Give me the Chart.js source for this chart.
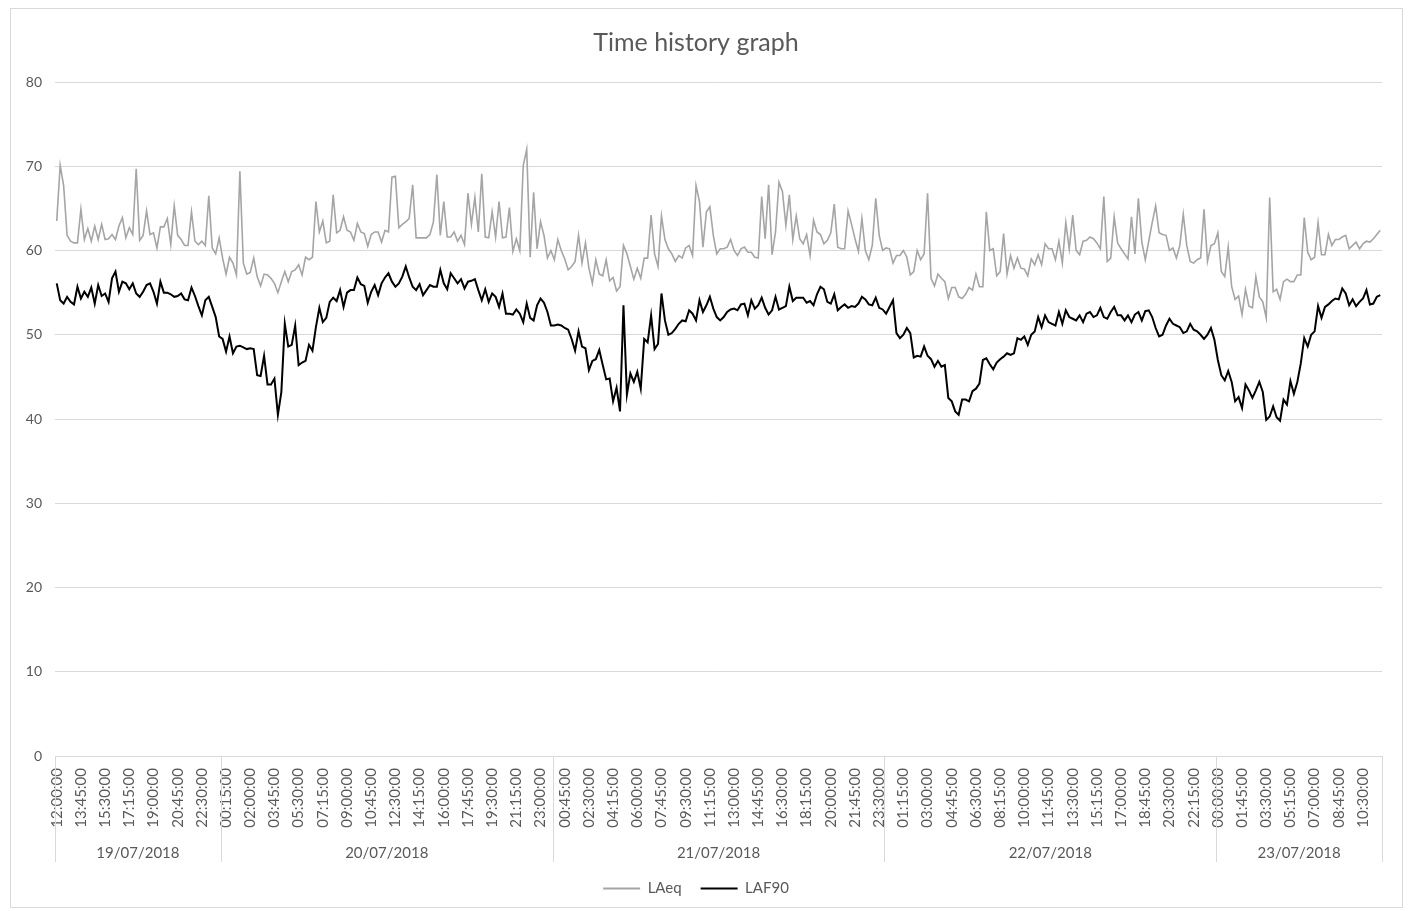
<!DOCTYPE html>
<html>
<head>
<meta charset="utf-8">
<title>Time history graph</title>
<script src="https://cdn.jsdelivr.net/npm/chart.js@4.4.1/dist/chart.umd.min.js"></script>
<style>
  html, body { margin: 0; padding: 0; background: #fff; }
  #wrap { width: 1408px; height: 911px; }
</style>
</head>
<body>
<div id="wrap"><canvas id="historyChart" width="1408" height="911"></canvas></div>
<script>
// Days on the lower axis level and how many 15-minute readings each one holds
const days = ['19/07/2018', '20/07/2018', '21/07/2018', '22/07/2018', '23/07/2018'];
const dayCounts = [48, 96, 96, 96, 48];
const firstReading = '12:00';   // first reading on 19/07/2018
const stepMinutes = 15;
const labelEvery = 7;           // one time label every 7 readings

// LAeq, dB(A), one value per 15 minutes
const laeq = [
  63.5, 70.1, 67.7, 61.8, 61.1, 60.9, 60.9, 64.9, 61.3, 62.6,
  61.1, 62.9, 61.3, 63.1, 61.3, 61.4, 61.9, 61.3, 62.9, 63.9,
  61.5, 62.7, 61.9, 69.7, 61.2, 61.8, 64.7, 61.9, 62.1, 60.3,
  62.8, 62.8, 63.8, 60.7, 65.3, 61.8, 61.3, 60.6, 60.6, 64.6,
  61.1, 60.7, 61.1, 60.6, 66.5, 60.3, 59.6, 61.5,
  59.1, 57.2, 59.2, 58.5, 57.1, 69.4, 58.5, 57.2, 57.4, 59.1,
  56.9, 55.8, 57.2, 57.1, 56.7, 56.1, 55.0, 56.3, 57.5, 56.3,
  57.5, 57.7, 58.3, 57.1, 59.2, 58.9, 59.2, 65.8, 62.2, 63.5,
  60.9, 61.1, 66.6, 62.1, 62.4, 64.0, 62.4, 62.2, 61.2, 63.2,
  62.2, 62.0, 60.5, 61.9, 62.2, 62.2, 61.0, 62.4,
  62.2, 68.7, 68.8, 62.7, 63.1, 63.4, 63.8, 67.8, 61.5, 61.5,
  61.5, 61.5, 61.9, 63.4, 69.0, 61.8, 65.8, 61.6, 61.6, 62.2,
  61.1, 61.8, 60.7, 66.8, 63.1, 66.3, 62.2, 69.1, 61.6, 61.5,
  64.6, 61.6, 65.8, 61.5, 61.6, 65.1, 59.9, 61.4, 60.0, 70.1,
  72.0, 59.2, 66.9, 60.2, 63.4, 61.8, 59.1, 60.0,
  58.9, 61.3, 60.0, 59.0, 57.7, 58.1, 58.7, 61.8, 58.5, 60.9,
  57.9, 56.1, 58.9, 57.2, 57.0, 58.9, 56.4, 56.8, 55.2, 55.7,
  60.6, 59.6, 58.1, 56.6, 57.9, 56.7, 59.1, 59.1, 64.2, 59.6,
  58.1, 64.1, 61.3, 60.2, 59.6, 58.7, 59.4, 59.1, 60.3, 60.6,
  59.4, 67.7, 65.8, 60.4, 64.6, 65.2, 61.8, 59.6,
  60.2, 60.2, 60.4, 61.3, 60.0, 59.4, 60.2, 60.4, 59.8, 59.8,
  59.2, 59.1, 66.4, 61.4, 67.8, 59.5, 62.2, 68.1, 67.0, 63.0,
  66.6, 61.3, 64.1, 61.4, 60.8, 61.9, 59.4, 63.6, 62.2, 61.9,
  60.8, 61.2, 62.1, 65.5, 60.4, 60.2, 60.2, 64.7, 63.1, 61.4,
  59.9, 63.8, 60.0, 58.9, 60.6, 66.2, 61.8, 60.0,
  60.3, 60.2, 58.5, 59.4, 59.4, 60.0, 59.2, 57.1, 57.5, 60.0,
  58.9, 59.6, 66.8, 56.7, 55.8, 57.2, 56.7, 56.3, 54.3, 55.6,
  55.6, 54.5, 54.3, 54.8, 55.6, 55.3, 57.2, 55.7, 55.7, 64.6,
  60.0, 60.2, 57.0, 57.5, 62.0, 57.2, 59.4, 57.9, 59.1, 57.9,
  57.8, 57.0, 59.0, 58.3, 59.5, 58.3, 60.8, 60.2,
  60.2, 58.9, 61.1, 58.5, 63.3, 60.2, 64.2, 60.0, 59.5, 61.1,
  61.2, 61.6, 61.4, 60.9, 60.2, 66.4, 58.7, 59.1, 64.0, 60.9,
  60.2, 59.6, 59.0, 64.0, 59.6, 66.2, 61.0, 58.9, 61.1, 63.3,
  65.3, 62.1, 61.9, 61.8, 60.0, 60.3, 59.1, 60.6, 64.3, 60.6,
  58.7, 58.5, 58.9, 59.1, 64.9, 58.7, 60.6, 60.8,
  62.1, 57.5, 56.9, 60.4, 55.7, 54.2, 54.6, 52.4, 55.4, 53.4,
  53.2, 56.9, 54.5, 53.9, 52.0, 66.3, 55.1, 55.4, 54.2, 56.3,
  56.6, 56.3, 56.3, 57.1, 57.1, 63.9, 59.8, 58.9, 59.2, 63.3,
  59.5, 59.5, 61.9, 60.6, 61.3, 61.3, 61.6, 61.8, 60.2, 60.6,
  61.0, 60.2, 60.8, 61.1, 61.0, 61.4, 61.9, 62.4
];

// LAF90, dB(A), one value per 15 minutes
const laf90 = [
  56.1, 54.1, 53.7, 54.5, 53.9, 53.6, 55.7, 54.3, 55.1, 54.5,
  55.6, 53.7, 55.9, 54.6, 54.9, 53.9, 56.7, 57.5, 55.1, 56.3,
  56.1, 55.4, 56.1, 54.9, 54.5, 55.1, 55.9, 56.1, 55.1, 53.7,
  56.3, 55.0, 55.0, 54.8, 54.5, 54.6, 54.9, 54.2, 54.1, 55.6,
  54.6, 53.4, 52.3, 54.1, 54.5, 53.3, 52.1, 49.8,
  49.5, 48.0, 49.8, 47.8, 48.6, 48.7, 48.5, 48.3, 48.4, 48.3,
  45.2, 45.1, 47.5, 44.1, 44.1, 44.8, 40.5, 43.2, 51.3, 48.6,
  48.8, 51.1, 46.4, 46.7, 46.9, 48.8, 48.1, 50.9, 53.2, 51.5,
  52.0, 53.9, 54.4, 54.0, 55.3, 53.3, 55.0, 55.3, 55.3, 56.8,
  56.0, 55.8, 53.8, 55.1, 55.9, 54.7, 56.1, 56.8,
  57.3, 56.3, 55.7, 56.1, 56.9, 58.1, 56.8, 55.7, 55.3, 56.0,
  54.7, 55.3, 55.9, 55.7, 55.7, 57.7, 56.1, 55.4, 57.3, 56.7,
  56.1, 56.6, 55.5, 56.3, 56.4, 56.6, 55.3, 54.1, 55.4, 53.9,
  54.9, 54.5, 53.3, 54.9, 52.5, 52.5, 52.4, 53.0, 52.5, 51.5,
  53.7, 52.0, 51.7, 53.5, 54.3, 53.8, 52.7, 51.1,
  51.1, 51.2, 51.1, 50.8, 50.6, 49.5, 48.1, 50.4, 48.6, 48.4,
  45.8, 46.9, 47.1, 48.2, 46.4, 44.7, 44.8, 42.1, 43.7, 40.9,
  53.5, 42.9, 45.4, 44.4, 45.6, 43.6, 49.5, 49.1, 52.3, 48.3,
  48.9, 54.9, 51.7, 50.0, 50.2, 50.7, 51.3, 51.7, 51.6, 52.9,
  52.5, 51.7, 54.1, 52.7, 53.5, 54.5, 53.1, 52.1,
  51.7, 52.1, 52.7, 53.0, 53.1, 52.9, 53.6, 53.7, 52.3, 54.1,
  53.1, 53.5, 54.4, 53.2, 52.4, 52.9, 54.5, 53.0, 53.2, 53.4,
  55.7, 54.0, 54.4, 54.4, 54.4, 53.8, 54.0, 53.5, 54.8, 55.7,
  55.4, 53.9, 53.7, 54.8, 52.9, 53.3, 53.6, 53.2, 53.4, 53.3,
  53.7, 54.5, 54.2, 53.6, 53.5, 54.4, 53.2, 53.0,
  52.5, 53.3, 54.1, 50.2, 49.6, 50.0, 50.8, 50.2, 47.3, 47.5,
  47.4, 48.6, 47.5, 47.1, 46.2, 46.9, 46.2, 46.4, 42.5, 42.1,
  40.9, 40.5, 42.3, 42.3, 42.1, 43.3, 43.6, 44.2, 47.0, 47.2,
  46.5, 45.9, 46.7, 47.1, 47.4, 47.8, 47.6, 47.8, 49.6, 49.4,
  49.8, 48.8, 50.0, 50.4, 52.1, 50.9, 52.3, 51.5,
  51.3, 51.1, 52.7, 51.3, 52.9, 52.1, 51.9, 51.7, 52.3, 51.5,
  52.5, 52.7, 52.1, 52.3, 53.2, 52.1, 51.9, 52.7, 53.3, 52.3,
  52.3, 51.7, 52.3, 51.5, 52.4, 52.7, 51.7, 52.8, 52.9, 52.1,
  50.8, 49.8, 50.0, 51.1, 51.9, 51.3, 51.1, 50.9, 50.2, 50.4,
  51.3, 50.6, 50.4, 50.0, 49.5, 50.0, 50.8, 49.4,
  47.0, 45.2, 44.6, 45.7, 44.4, 42.1, 42.6, 41.3, 44.1, 43.4,
  42.5, 43.4, 44.4, 43.2, 39.9, 40.3, 41.5, 40.2, 39.8, 42.3,
  41.7, 44.5, 43.0, 44.4, 46.6, 49.6, 48.6, 50.0, 50.4, 53.4,
  52.0, 53.3, 53.6, 54.0, 54.3, 54.2, 55.5, 54.9, 53.5, 54.2,
  53.4, 53.9, 54.3, 55.3, 53.6, 53.7, 54.5, 54.7
];

// Build the time-of-day category for every reading
const timeLabels = [];
let [hh, mm] = firstReading.split(':').map(Number);
days.forEach((day, d) => {
  for (let k = 0; k < dayCounts[d]; k++) {
    timeLabels.push(String(hh).padStart(2, '0') + ':' + String(mm).padStart(2, '0') + ':00');
    mm += stepMinutes;
    if (mm >= 60) { mm -= 60; hh = (hh + 1) % 24; }
  }
});

const gridColor = '#d9d9d9';
const textColor = '#595959';
const fontFamily = 'Lato, "Open Sans", sans-serif';

// Outer frame plus the second (date) level of the category axis
const dateLevelPlugin = {
  id: 'dateLevel',
  beforeDraw(chart) {
    const ctx = chart.ctx;
    ctx.save();
    ctx.fillStyle = '#fff';
    ctx.fillRect(0, 0, chart.width, chart.height);
    ctx.strokeStyle = gridColor;
    ctx.lineWidth = 1;
    ctx.strokeRect(10.5, 8.5, chart.width - 16, chart.height - 12);
    ctx.restore();
  },
  afterDraw(chart) {
    const ctx = chart.ctx;
    const x = chart.scales.x;
    const half = (x.getPixelForValue(1) - x.getPixelForValue(0)) / 2;
    const top = x.top;
    const bottom = x.bottom;

    ctx.save();
    ctx.strokeStyle = gridColor;
    ctx.lineWidth = 1;
    ctx.fillStyle = textColor;
    ctx.font = '15px ' + fontFamily;
    ctx.textAlign = 'center';
    ctx.textBaseline = 'middle';

    let start = 0;
    days.forEach((day, d) => {
      const end = start + dayCounts[d] - 1;
      const left = x.getPixelForValue(start) - half;
      const right = x.getPixelForValue(end) + half;
      [left, right].forEach(px => {
        const p = Math.round(px) + 0.5;
        ctx.beginPath();
        ctx.moveTo(p, top);
        ctx.lineTo(p, bottom);
        ctx.stroke();
      });
      ctx.fillText(day, (left + right) / 2, bottom - 9);
      start = end + 1;
    });
    ctx.restore();
  }
};

const ctx = document.getElementById('historyChart').getContext('2d');
new Chart(ctx, {
  type: 'line',
  data: {
    labels: timeLabels,
    datasets: [
      {
        label: 'LAeq',
        data: laeq,
        borderColor: '#a5a5a5',
        backgroundColor: '#a5a5a5',
        borderWidth: 1.6,
        pointRadius: 0,
        tension: 0,
        fill: false
      },
      {
        label: 'LAF90',
        data: laf90,
        borderColor: '#000000',
        backgroundColor: '#000000',
        borderWidth: 2,
        pointRadius: 0,
        tension: 0,
        fill: false
      }
    ]
  },
  options: {
    responsive: false,
    animation: false,
    layout: {
      padding: { top: 28, left: 10, right: 26, bottom: 5 }
    },
    plugins: {
      title: {
        display: true,
        text: 'Time history graph',
        color: textColor,
        font: { family: fontFamily, size: 25, weight: 'normal' },
        padding: { top: 0, bottom: 24 }
      },
      legend: {
        display: true,
        position: 'bottom',
        labels: {
          color: textColor,
          font: { family: fontFamily, size: 15 },
          boxWidth: 37,
          boxHeight: 2,
          padding: 19,
          generateLabels: chart =>
            Chart.defaults.plugins.legend.labels.generateLabels(chart)
              .map(item => ({ ...item, lineWidth: 0 }))
        }
      },
      tooltip: { enabled: false }
    },
    scales: {
      x: {
        offset: true,
        grid: { display: false, drawTicks: false },
        border: { display: true, color: gridColor },
        ticks: {
          autoSkip: false,
          minRotation: 90,
          maxRotation: 90,
          padding: 12,
          color: textColor,
          font: { family: fontFamily, size: 15 },
          callback: (value, index) => index % labelEvery === 0 ? timeLabels[index] : null
        },
        afterFit: scale => { scale.height = 106; }
      },
      y: {
        min: 0,
        max: 80,
        grid: { color: gridColor, drawTicks: false },
        border: { display: false },
        ticks: {
          stepSize: 10,
          padding: 13,
          color: textColor,
          font: { family: fontFamily, size: 14 }
        },
        afterFit: scale => { scale.width = 45; }
      }
    }
  },
  plugins: [dateLevelPlugin]
});
</script>
</body>
</html>
